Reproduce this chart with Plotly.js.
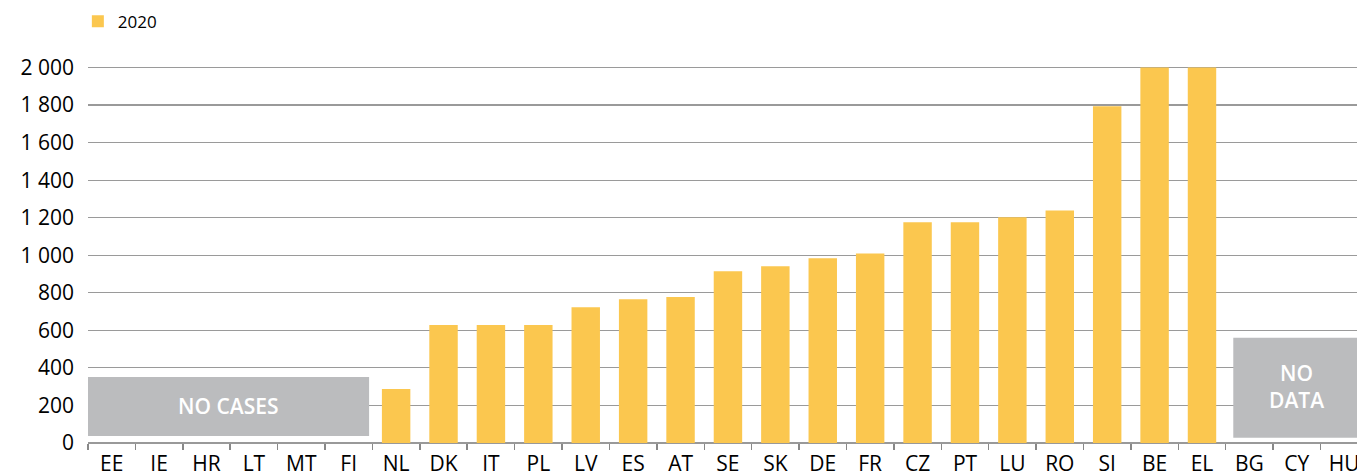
<!DOCTYPE html>
<html><head><meta charset="utf-8">
<script src="https://cdn.plot.ly/plotly-3.0.1.min.js"></script>
<style>html,body{margin:0;padding:0;background:#fff}#chart{width:1357px;height:475px}</style>
</head><body><div id="chart"></div>
<script>
const countries = ["EE","IE","HR","LT","MT","FI","NL","DK","IT","PL","LV","ES","AT","SE","SK","DE","FR","CZ","PT","LU","RO","SI","BE","EL","BG","CY","HU"];
const values2020 = [null,null,null,null,null,null,287,628,628,628,723,766,777,915,941,984,1010,1176,1176,1202,1239,1793,2000,2000,null,null,null];
const yTickVals = [0,200,400,600,800,1000,1200,1400,1600,1800,2000];
const yTickText = ["0","200","400","600","800","1 000","1 200","1 400","1 600","1 800","2 000"];
const seriesName = "2020";

const fam = '"Open Sans", sans-serif';
const trace = {type:'bar', x:countries, y:values2020, name:seriesName, marker:{color:'#fbc74f'}, width:0.6, showlegend:true};
const layout = {
  width:1357, height:475,
  margin:{l:88, r:0, t:60, b:32},
  paper_bgcolor:'#fff', plot_bgcolor:'#fff',
  font:{family:fam, color:'#000'},
  showlegend:true,
  legend:{orientation:'h', x:-0.008, xanchor:'left', y:1.10, yanchor:'middle', font:{size:17, family:fam, color:'#000', weight:500}},
  xaxis:{type:'category', range:[-0.5,26.27], tickson:'boundaries', ticks:'outside', ticklen:6, tickcolor:'#888', tickwidth:1.5,
         showgrid:false, showline:false, tickfont:{size:21, family:fam, color:'#000', weight:500}, ticklabelstandoff:6, fixedrange:true},
  yaxis:{range:[0,2040], tickvals:yTickVals, ticktext:yTickText, showgrid:true, gridcolor:'#9a9a9a', gridwidth:1.2,
         zeroline:true, zerolinecolor:'#999', zerolinewidth:1.5, ticks:'', tickfont:{size:21, family:fam, color:'#000', weight:500}, ticklabelstandoff:13},
  shapes:[
    {type:'rect', xref:'x', yref:'y', x0:-0.5, x1:5.43, y0:37, y1:351, fillcolor:'#bbbcbe', line:{width:0}, layer:'above'},
    {type:'rect', xref:'x', yref:'y', x0:23.66, x1:26.5, y0:28, y1:560, fillcolor:'#bbbcbe', line:{width:0}, layer:'above'}
  ],
  annotations:[
    {xref:'x', yref:'y', x:2.46, y:197, text:'NO CASES', showarrow:false, font:{size:21, color:'#fff', family:fam, weight:600}},
    {xref:'x', yref:'y', x:25.0, y:303, text:'NO<br>DATA', showarrow:false, font:{size:21, color:'#fff', family:fam, weight:600}}
  ]
};
Plotly.newPlot('chart',[trace],layout,{displayModeBar:false, staticPlot:true});
</script></body></html>
